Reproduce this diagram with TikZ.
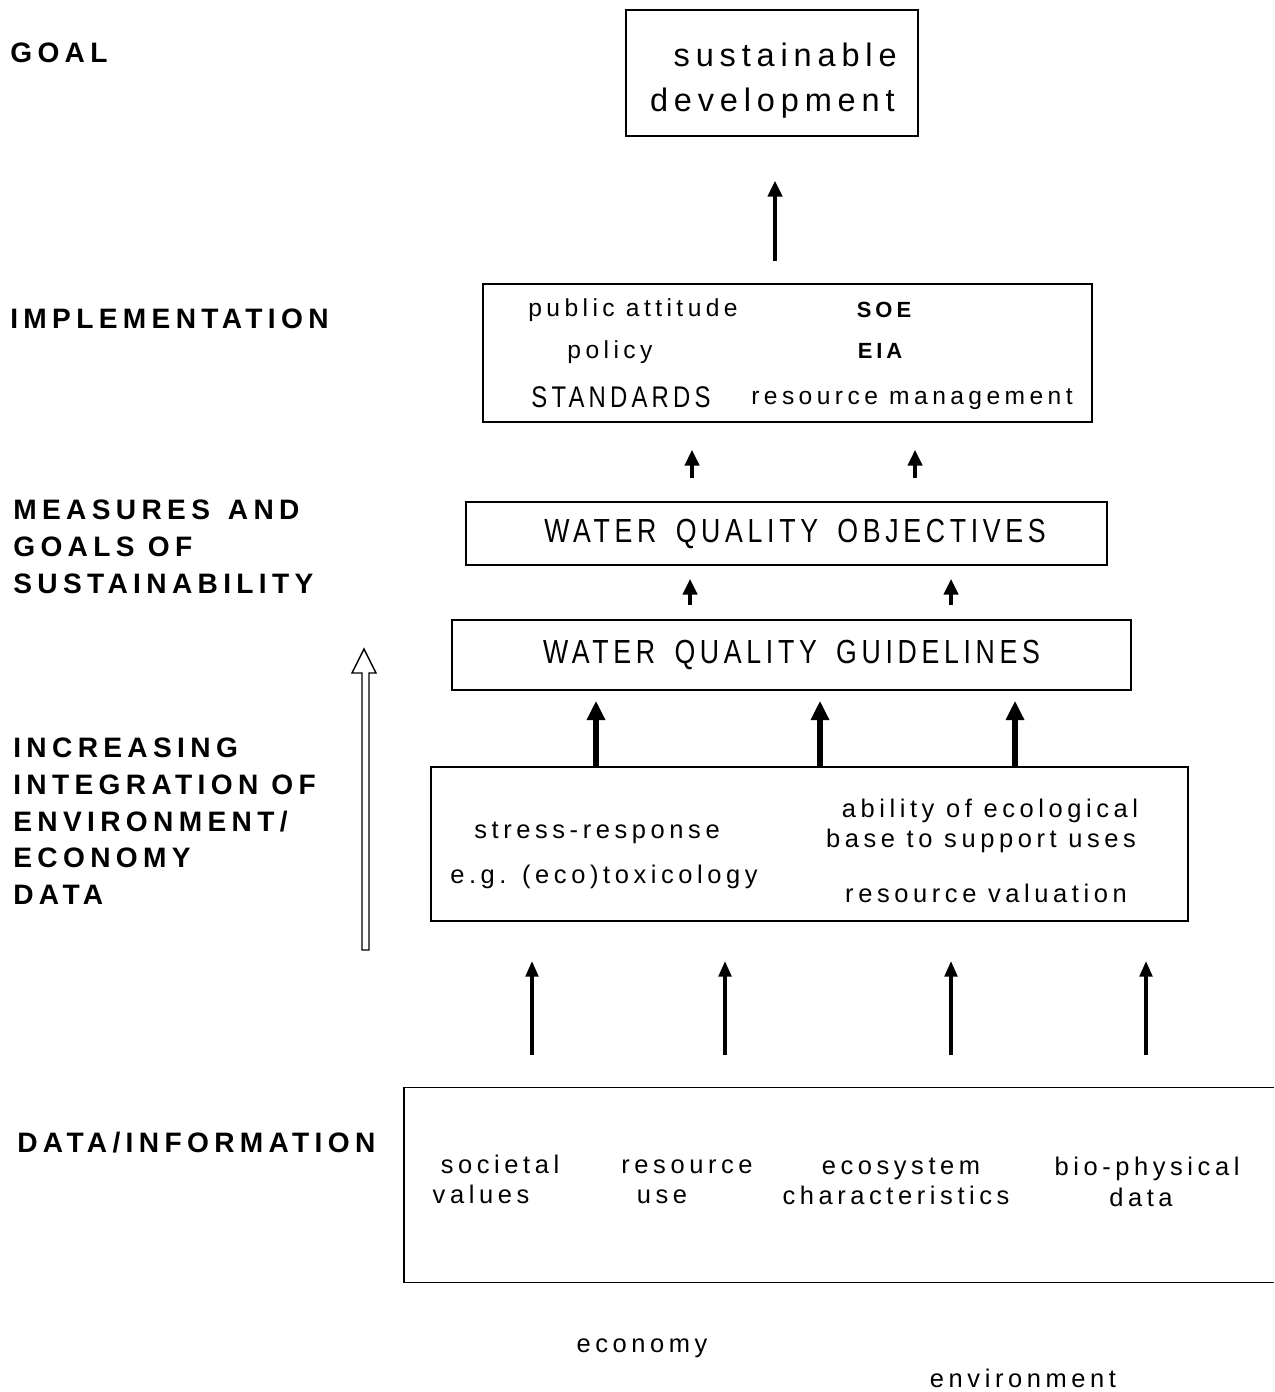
\documentclass[tikz,border=0pt]{standalone}
\usepackage{fontspec}
\setmainfont{Liberation Sans}
\newfontfamily\spaced[LetterSpace=18]{Liberation Sans}
\newfontfamily\labelfont[LetterSpace=19]{Liberation Sans}
\newfontfamily\wqfont[FakeStretch=0.8,LetterSpace=14,WordSpace=1.6]{Liberation Sans}
\usetikzlibrary{arrows.meta}
\tikzset{
  tierbox/.style={rectangle, draw=black, line width=0.9pt, inner sep=0pt},
  boxline/.style={draw=black, line width=0.9pt},
  sidelabel/.style={anchor=base west, align=left, inner sep=0pt, font=\labelfont\bfseries\fontsize{16pt}{20.8pt}\selectfont},
  boxtext/.style={anchor=base, inner sep=0pt, font=\spaced\fontsize{14.5pt}{17pt}\selectfont},
  smalltext/.style={anchor=base, inner sep=0pt, font=\spaced\fontsize{14pt}{16pt}\selectfont},
  boldtext/.style={anchor=base, inner sep=0pt, font=\spaced\bfseries\fontsize{12.5pt}{15pt}\selectfont},
  wqtext/.style={font=\wqfont\fontsize{19pt}{23pt}\selectfont},
  arrow/.style={line width=2.6pt, ->, >={Triangle[length=9pt,width=8pt]}},
  bigarrow/.style={line width=3.2pt, ->, >={Triangle[length=11pt,width=10pt]}},
  thinarrow/.style={line width=2.2pt, ->, >={Triangle[length=9pt,width=7pt]}}
}
\begin{document}
\begin{tikzpicture}[x=0.02cm, y=-0.02cm]
    \useasboundingbox (0,0) rectangle (1274,1392);

    % Levels on the left
    \node[sidelabel] (lgoal) at (10,63) {GOAL};
    \node[sidelabel] (limpl) at (10,328) {IMPLEMENTATION};
    \node[sidelabel, anchor=north west] (lmeas) at (13,500) {MEASURES\ \,AND\\GOALS OF\\SUSTAINABILITY};
    \node[sidelabel, anchor=north west] (lincr) at (13,738) {INCREASING\\INTEGRATION OF\\ENVIRONMENT/\\ECONOMY\\DATA};
    \node[sidelabel] (ldata) at (17,1152) {DATA/INFORMATION};

    % Goal
    \node[tierbox, minimum width=5.84cm, minimum height=2.52cm] (goal) at (772,73) {};
    \node[anchor=base east, inner sep=0pt, font=\spaced\fontsize{18.5pt}{25pt}\selectfont] (sust) at (897,67) {sustainable};
    \node[anchor=base east, inner sep=0pt, font=\spaced\fontsize{18.5pt}{25pt}\selectfont] (devel) at (895,112) {development};

    % Implementation
    \node[tierbox, minimum width=12.18cm, minimum height=2.76cm] (impl) at (787.5,353) {};
    \node[smalltext] (pubatt) at (633,316) {public attitude};
    \node[smalltext] (policy) at (610,358) {policy};
    \node[smalltext, font=\wqfont\fontsize{17pt}{20pt}\selectfont] (standards) at (621,407) {STANDARDS};
    \node[boldtext] (soe) at (884,317) {SOE};
    \node[boldtext] (eia) at (880,358) {EIA};
    \node[smalltext] (resmgmt) at (912,404) {resource management};

    % Objectives and guidelines
    \node[tierbox, minimum width=12.82cm, minimum height=1.26cm] (obj) at (786.5,533.5) {};
    \node[wqtext, inner sep=0pt] (objtext) at (795,534) {WATER QUALITY OBJECTIVES};
    \node[tierbox, wqtext, minimum width=13.58cm, minimum height=1.40cm] (guide) at (791.5,655) {WATER QUALITY GUIDELINES};

    % Integration of data
    \node[tierbox, minimum width=15.14cm, minimum height=3.08cm] (mid) at (809.5,844) {};
    \node[boxtext] (stress) at (597,838) {stress-response};
    \node[boxtext] (egtox) at (604,883) {e.g. (eco)toxicology};
    \node[boxtext] (ability) at (990,817) {ability of ecological};
    \node[boxtext] (support) at (981,847) {base to support uses};
    \node[boxtext] (resval) at (986,902) {resource valuation};

    % Data / information (open on the right)
    \node[minimum width=17.40cm, minimum height=3.88cm, inner sep=0pt] (data) at (839,1185) {};
    \draw[boxline] (data.north east) -- (data.north west) -- (data.south west) -- (data.south east);
    \node[boxtext] (societal) at (500,1173) {societal};
    \node[boxtext] (values) at (481,1203) {values};
    \node[boxtext] (resource) at (687,1173) {resource};
    \node[boxtext] (use) at (662,1203) {use};
    \node[boxtext] (ecosys) at (901,1174) {ecosystem};
    \node[boxtext] (charact) at (896,1204) {characteristics};
    \node[boxtext] (biophys) at (1147,1175) {bio-physical};
    \node[boxtext] (biodata) at (1141,1206) {data};

    \node[boxtext] (economy) at (642,1352) {economy};
    \node[boxtext] (environ) at (1023,1387) {environment};

    % Hollow arrow along the levels
    \draw[line width=0.8pt] (362,950) -- (362,673) -- (352,673) -- (364,649)
        -- (376,673) -- (369,673) -- (369,950) -- cycle;

    % Arrows between levels
    \draw[arrow, shorten <=0.44cm, shorten >=0.88cm] (impl.north -| 775,0) -- (goal.south -| 775,0);

    \draw[arrow, shorten <=0.46cm, shorten >=0.54cm] (obj.north -| 692,0) -- (impl.south -| 692,0);
    \draw[arrow, shorten <=0.46cm, shorten >=0.54cm] (obj.north -| 915,0) -- (impl.south -| 915,0);

    \draw[arrow, shorten <=0.28cm, shorten >=0.26cm] (guide.north -| 690,0) -- (obj.south -| 690,0);
    \draw[arrow, shorten <=0.28cm, shorten >=0.26cm] (guide.north -| 951,0) -- (obj.south -| 951,0);

    \foreach \xa in {596,820,1015}
        \draw[bigarrow, shorten >=0.2cm] (mid.north -| \xa,0) -- (guide.south -| \xa,0);

    \foreach \xa in {532,725,951,1146}
        \draw[thinarrow, shorten <=0.66cm, shorten >=0.78cm] (data.north -| \xa,0) -- (mid.south -| \xa,0);

\end{tikzpicture}
\end{document}
